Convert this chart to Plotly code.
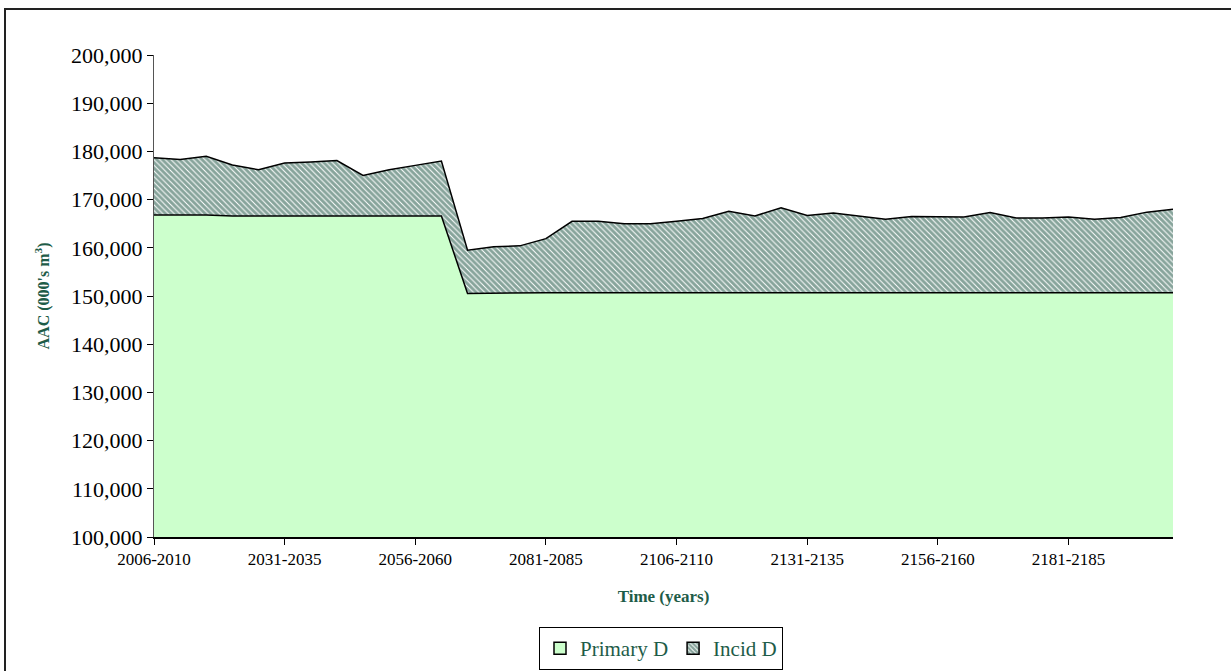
import plotly.graph_objects as go

categories = [
    "2006-2010", "2011-2015", "2016-2020", "2021-2025", "2026-2030",
    "2031-2035", "2036-2040", "2041-2045", "2046-2050", "2051-2055",
    "2056-2060", "2061-2065", "2066-2070", "2071-2075", "2076-2080",
    "2081-2085", "2086-2090", "2091-2095", "2096-2100", "2101-2105",
    "2106-2110", "2111-2115", "2116-2120", "2121-2125", "2126-2130",
    "2131-2135", "2136-2140", "2141-2145", "2146-2150", "2151-2155",
    "2156-2160", "2161-2165", "2166-2170", "2171-2175", "2176-2180",
    "2181-2185", "2186-2190", "2191-2195", "2196-2200", "2201-2205",
]

primary_d = [
    166800, 166800, 166800, 166600, 166600, 166600, 166600, 166600, 166600, 166600,
    166600, 166600, 150500, 150600, 150700, 150700, 150700, 150700, 150700, 150700,
    150700, 150700, 150700, 150700, 150700, 150700, 150700, 150700, 150700, 150700,
    150700, 150700, 150700, 150700, 150700, 150700, 150700, 150700, 150700, 150700,
]

incid_d = [
    11900, 11500, 12200, 10600, 9600, 11000, 11200, 11500, 8400, 9600,
    10500, 11400, 9000, 9600, 9700, 11200, 14800, 14800, 14300, 14300,
    14800, 15400, 16900, 15900, 17600, 16000, 16500, 15800, 15200, 15800,
    15700, 15700, 16600, 15500, 15500, 15700, 15200, 15600, 16700, 17300,
]

series_names = ["Primary D", "Incid D"]
tick_labels = categories[::5]

GREEN_TXT = "#1E5C48"
HATCH = "#0F4A38"
LIGHT = "#CCFFCC"
FONT = "Liberation Serif"
hatch_pattern = dict(shape="\\", fgcolor=HATCH, bgcolor="white", size=4, solidity=0.75)

fig = go.Figure()
fig.add_trace(go.Scatter(
    x=categories, y=primary_d, name=series_names[0], stackgroup="one",
    mode="lines", line=dict(color="black", width=1.5),
    fillcolor=LIGHT, showlegend=False,
))
fig.add_trace(go.Scatter(
    x=categories, y=incid_d, name=series_names[1], stackgroup="one",
    mode="lines", line=dict(color="black", width=1.5),
    fillcolor="white", fillpattern=hatch_pattern, showlegend=False,
))
# legend swatches (square keys, as in the reference)
fig.add_trace(go.Bar(
    x=[None], y=[None], name=series_names[0],
    marker=dict(color=LIGHT, line=dict(color="black", width=1.5)),
))
fig.add_trace(go.Bar(
    x=[None], y=[None], name=series_names[1],
    marker=dict(color="white", line=dict(color="black", width=1.5),
                pattern=dict(shape="\\", fgcolor=HATCH, bgcolor="white", size=4, solidity=0.75)),
))

W, H = 1231, 671
L, R, T, B = 154, 58, 55, 134
pw, ph = W - L - R, H - T - B

def px_x(px):
    return (px - L) / pw

def px_y(py):
    return (H - B - py) / ph

fig.update_layout(
    width=W, height=H,
    margin=dict(l=L, r=R, t=T, b=B, autoexpand=False),
    paper_bgcolor="white", plot_bgcolor="white",
    font=dict(family=FONT, color="black"),
    showlegend=True,
    legend=dict(
        orientation="h", x=px_x(661), xanchor="center", y=px_y(627), yanchor="top",
        bordercolor="black", borderwidth=1, bgcolor="white",
        font=dict(family=FONT, size=21, color=GREEN_TXT),
        itemwidth=30, tracegroupgap=0, traceorder="normal",
    ),
    xaxis=dict(
        type="category", categoryorder="array", categoryarray=categories,
        range=[0, len(categories) - 1],
        tickmode="array", tickvals=tick_labels, ticktext=tick_labels,
        ticks="outside", ticklen=6, tickcolor="black", tickwidth=1,
        showline=True, linecolor="black", linewidth=2,
        showgrid=False, zeroline=False,
        tickfont=dict(family=FONT, size=17, color="black"),
        title=dict(text="<b>Time (years)</b>", font=dict(family=FONT, size=17, color=GREEN_TXT), standoff=22),
    ),
    yaxis=dict(
        range=[100000, 200000], dtick=10000, tick0=100000,
        tickformat=",d",
        ticks="outside", ticklen=6, tickcolor="black", tickwidth=1,
        showline=True, linecolor="#555555", linewidth=1,
        showgrid=False, zeroline=False,
        tickfont=dict(family=FONT, size=22, color="black"),
        title=dict(text="<b>AAC (000's m<sup>3</sup>)</b>", font=dict(family=FONT, size=16, color=GREEN_TXT), standoff=17),
    ),
    shapes=[
        dict(type="rect", xref="paper", yref="paper",
             x0=px_x(5), x1=px_x(1240), y0=px_y(690), y1=px_y(9),
             line=dict(color="#222222", width=2), fillcolor="rgba(0,0,0,0)", layer="below"),
    ],
)

fig.write_html("out.html", config={"displayModeBar": False},
               post_script="document.body.style.margin='0';document.body.style.overflow='hidden';")
